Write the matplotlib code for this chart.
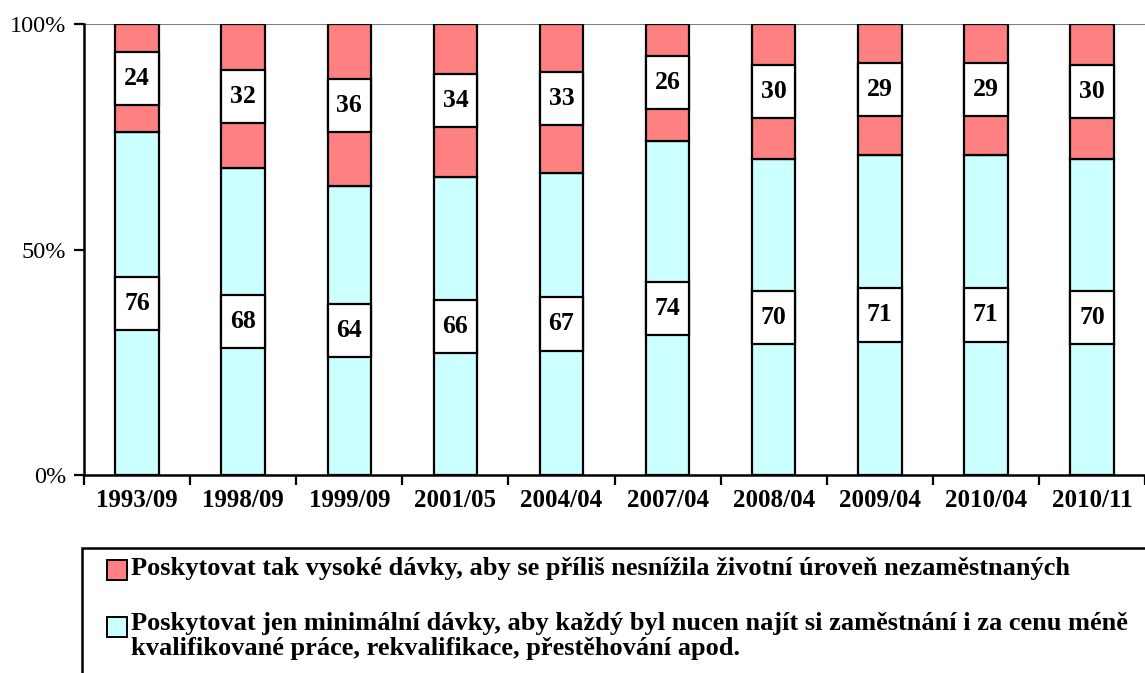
import numpy as np
import matplotlib.pyplot as plt
from matplotlib.patches import Rectangle

plt.rcParams['font.family'] = ['Liberation Serif', 'DejaVu Serif']

periods = ['1993/09', '1998/09', '1999/09', '2001/05', '2004/04',
           '2007/04', '2008/04', '2009/04', '2010/04', '2010/11']
minimal = [76, 68, 64, 66, 67, 74, 70, 71, 71, 70]
vysoke = [24, 32, 36, 34, 33, 26, 30, 29, 29, 30]

label_red = 'Poskytovat tak vysoké dávky, aby se příliš nesnížila životní úroveň nezaměstnaných'
label_blue = ('Poskytovat jen minimální dávky, aby každý byl nucen najít si zaměstnání i za cenu méně\n'
              'kvalifikované práce, rekvalifikace, přestěhování apod.')

red = '#FF8080'
blue = '#CCFFFF'

fig = plt.figure(figsize=(11.45, 6.73), dpi=100)
ax = fig.add_axes([0.0734, 0.2942, 0.9266, 0.6701])

x = np.arange(len(periods))
tot = np.array(minimal) + np.array(vysoke)
p_min = np.array(minimal) / tot * 100
p_vys = np.array(vysoke) / tot * 100

bw = 0.41
ax.bar(x, p_min, width=bw, color=blue, edgecolor='black', linewidth=1.6, zorder=3)
ax.bar(x, p_vys, width=bw, bottom=p_min, color=red, edgecolor='black', linewidth=1.6, zorder=3)

# white label boxes (Excel style data labels)
box_h = 11.8
c_min = p_min / 2
c_vys = p_min + p_vys / 2
ax.bar(x, box_h, width=bw, bottom=c_min - box_h / 2, color='white', edgecolor='black',
       linewidth=1.6, zorder=4)
ax.bar(x, box_h, width=bw, bottom=c_vys - box_h / 2, color='white', edgecolor='black',
       linewidth=1.6, zorder=4)
for i in range(len(periods)):
    ax.text(x[i], c_min[i], str(minimal[i]), ha='center', va='center',
            fontsize=18.5, fontweight='bold', zorder=5)
    ax.text(x[i], c_vys[i], str(vysoke[i]), ha='center', va='center',
            fontsize=18.5, fontweight='bold', zorder=5)

ax.set_xlim(-0.5, len(periods) - 0.5)
ax.set_ylim(0, 100)
ax.set_yticks([0, 50, 100])
ax.set_yticklabels(['0%', '50%', '100%'], fontsize=17.5)
ax.axhline(100, color='#808080', linewidth=1.5, zorder=1)

ax.set_xticks(x)
ax.set_xticklabels(periods, fontsize=18, fontweight='bold')
ax.set_xticks(np.arange(-0.5, len(periods), 1), minor=True)
ax.tick_params(axis='x', which='major', length=0, pad=10)
ax.tick_params(axis='x', which='minor', length=7, width=1.6, direction='out')
ax.tick_params(axis='y', length=7, width=1.6, direction='out', pad=6)

for s in ['top', 'right']:
    ax.spines[s].set_visible(False)
for s in ['left', 'bottom']:
    ax.spines[s].set_linewidth(1.8)

# legend box
fig.patches.append(Rectangle((82 / 1145, -0.1), 1.2, 1 - 548 / 673 + 0.1,
                             transform=fig.transFigure, facecolor='white',
                             edgecolor='black', linewidth=1.8))
fig.patches.append(Rectangle((107 / 1145, 1 - 580 / 673), 20 / 1145, 20 / 673,
                             transform=fig.transFigure, facecolor=red,
                             edgecolor='black', linewidth=1.4))
fig.patches.append(Rectangle((107 / 1145, 1 - 637 / 673), 20 / 1145, 20 / 673,
                             transform=fig.transFigure, facecolor=blue,
                             edgecolor='black', linewidth=1.4))
fig.text(131 / 1145, 1 - 569 / 673, label_red, fontsize=19, fontweight='bold', va='center')
fig.text(131 / 1145, 1 - 612 / 673, label_blue, fontsize=19, fontweight='bold', va='top',
         linespacing=1.12)

fig.savefig('out.png', dpi=100)
